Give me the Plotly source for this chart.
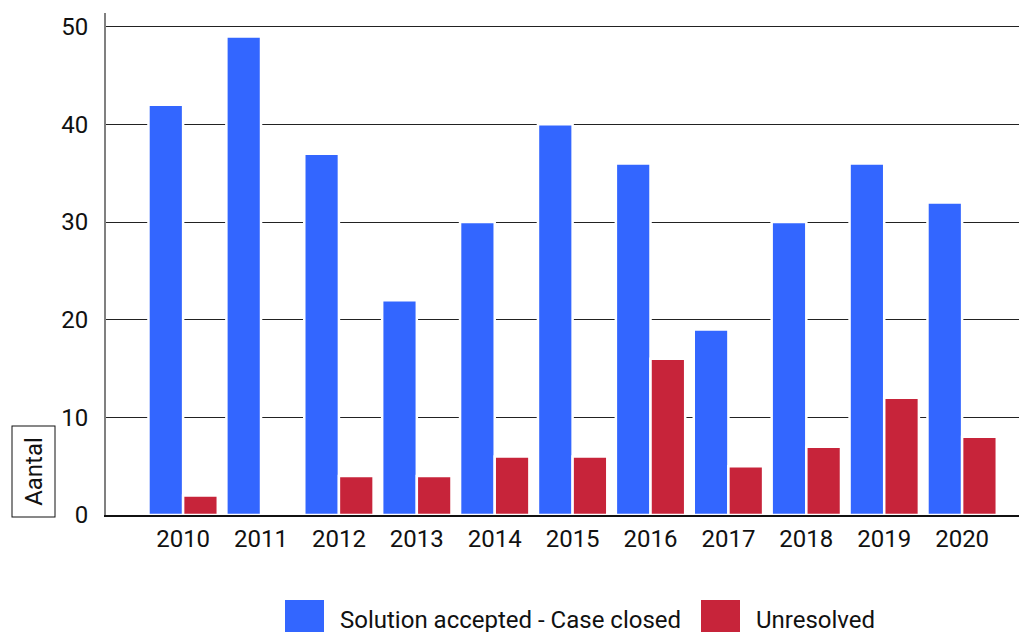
import plotly.graph_objects as go

years = ["2010", "2011", "2012", "2013", "2014", "2015", "2016", "2017", "2018", "2019", "2020"]
solved = [42, 49, 37, 22, 30, 40, 36, 19, 30, 36, 32]
unresolved = [2, 0, 4, 4, 6, 6, 16, 5, 7, 12, 8]
series_names = ["Solution accepted - Case closed", "Unresolved"]
colors = ["#3366FF", "#C7243A"]
y_title = "Aantal"

W, H = 1027, 632
OFF = 8  # page body margin offset
L, R, T, B = 106 - OFF, 9, 13 - OFF, 632 - (515 - OFF)
pw, ph = W - L - R, H - T - B

def px(x):
    return (x - OFF - L) / pw

def py(y):
    return (H - B - (y - OFF)) / ph

fig = go.Figure()
for name, vals, c in zip(series_names, [solved, unresolved], colors):
    fig.add_trace(go.Bar(x=years, y=vals, name=name, marker=dict(color=c, line=dict(color="white", width=2.5)),
                         showlegend=False))

font = dict(family="Roboto", size=24, color="#111")

shapes = []
annotations = []
# manual legend
legend_items = [(285, 340), (701, 756)]
for (sx, tx), name, c in zip(legend_items, series_names, colors):
    shapes.append(dict(type="rect", xref="paper", yref="paper", x0=px(sx), x1=px(sx + 39),
                       y0=py(600), y1=py(639), fillcolor=c, line=dict(width=0), layer="above"))
    annotations.append(dict(text=name, xref="paper", yref="paper", x=px(tx - 2), y=py(620),
                            xanchor="left", yanchor="middle", showarrow=False, font=font))

annotations.append(dict(text=y_title, xref="paper", yref="paper", x=px(33.5), y=py(472),
                        xanchor="center", yanchor="middle", showarrow=False, textangle=-90,
                        font=font, bordercolor="#111", borderwidth=1, borderpad=5,
                        width=80, height=32))

fig.update_layout(
    width=W, height=H,
    margin=dict(l=L, r=R, t=T, b=B),
    paper_bgcolor="white", plot_bgcolor="white",
    barmode="group", bargap=0.11, bargroupgap=0,
    font=font,
    shapes=shapes, annotations=annotations,
    xaxis=dict(type="category", range=[-0.99, 10.82], showgrid=False, showline=True,
               linecolor="#111", linewidth=1.5, ticks="", ticklabelstandoff=1, tickfont=font),
    yaxis=dict(range=[0, 51.4], tick0=0, dtick=10, showgrid=True, gridcolor="#222", gridwidth=1,
               zeroline=False, showline=True, linecolor="#808080", linewidth=2, ticks="",
               ticklabelstandoff=11, tickfont=font),
)

fig.write_html("out.html")
